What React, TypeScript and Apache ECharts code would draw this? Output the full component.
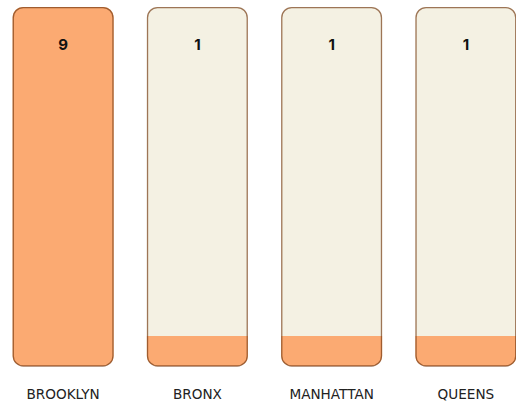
import React, { useEffect, useRef } from "react";
import * as echarts from "echarts";

const categories = ["BROOKLYN", "BRONX", "MANHATTAN", "QUEENS"];
const values = [9, 1, 1, 1];
const axisMax = 9;
const axisMin = 0.27;

export default function App() {
  const ref = useRef<HTMLDivElement>(null);
  useEffect(() => {
    document.body.style.margin = "0";
    const chart = echarts.init(ref.current!, null, { renderer: "svg" });
    const maxArr = values.map(() => axisMax);
    chart.setOption({
      animation: false,
      grid: { left: 0, right: 0, top: 7, bottom: 40 },
      xAxis: {
        type: "category",
        data: categories,
        axisLine: { show: false },
        axisTick: { show: false },
        axisLabel: {
          margin: 21,
          fontSize: 13.6,
          color: "#222",
          fontFamily: "DejaVu Sans",
        },
      },
      yAxis: {
        type: "value",
        min: axisMin,
        max: axisMax,
        show: false,
        splitLine: { show: false },
      },
      series: [
        {
          type: "bar",
          data: maxArr,
          barWidth: 101,
          silent: true,
          itemStyle: { color: "#F4F1E3", borderRadius: 10 },
          z: 1,
        },
        {
          type: "bar",
          data: values.map((v) => ({
            value: v,
            itemStyle: {
              borderRadius: v >= axisMax ? 10 : [0, 0, 10, 10],
            },
          })),
          barWidth: 101,
          barGap: "-100%",
          silent: true,
          itemStyle: { color: "#FBAA72" },
          z: 2,
        },
        {
          type: "bar",
          data: maxArr,
          barWidth: 101,
          barGap: "-100%",
          silent: true,
          itemStyle: {
            color: "rgba(0,0,0,0)",
            borderColor: "rgba(110,50,10,0.65)",
            borderWidth: 1.3,
            borderRadius: 10,
          },
          label: {
            show: true,
            position: "insideTop",
            distance: 30,
            fontSize: 15,
            fontWeight: "bold",
            color: "#111",
            fontFamily: "Inter",
            formatter: (p: any) => String(values[p.dataIndex]),
          },
          z: 3,
        },
      ],
    });
    return () => chart.dispose();
  }, []);
  return (
    <div style={{ width: 516, height: 406, overflow: "hidden", position: "relative" }}>
      <div ref={ref} style={{ position: "absolute", left: -4, top: 0, width: 537, height: 406 }} />
    </div>
  );
}
